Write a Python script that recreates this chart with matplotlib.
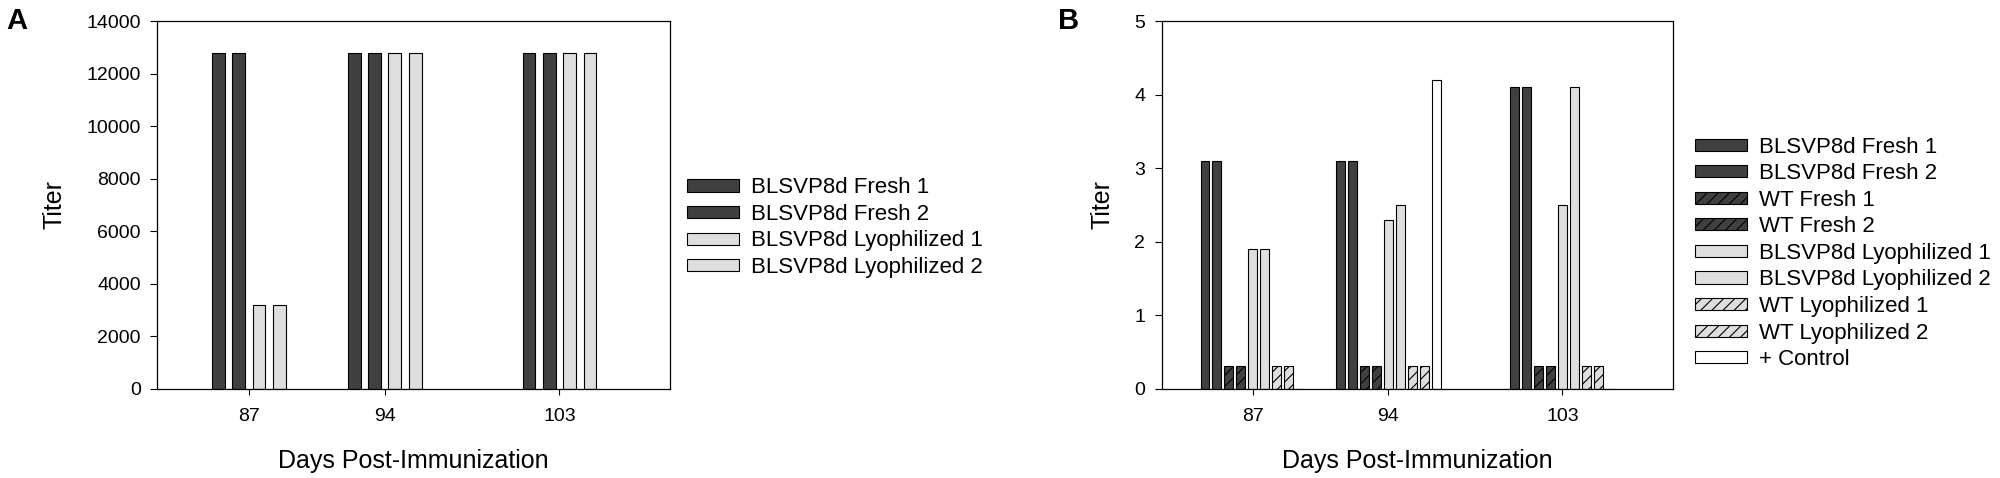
import numpy as np
import matplotlib
matplotlib.use('Agg')
import matplotlib.pyplot as plt

plt.rcParams['font.family'] = ['Liberation Sans', 'DejaVu Sans']
plt.rcParams['hatch.linewidth'] = 0.8

# Donnees
jours = [87, 94, 103]

series_a = ['BLSVP8d Fresh 1', 'BLSVP8d Fresh 2',
            'BLSVP8d Lyophilized 1', 'BLSVP8d Lyophilized 2']
titre_a = [
    [12800, 12800, 12800],
    [12800, 12800, 12800],
    [3200, 12800, 12800],
    [3200, 12800, 12800],
]

series_b = ['BLSVP8d Fresh 1', 'BLSVP8d Fresh 2', 'WT Fresh 1', 'WT Fresh 2',
            'BLSVP8d Lyophilized 1', 'BLSVP8d Lyophilized 2',
            'WT Lyophilized 1', 'WT Lyophilized 2', '+ Control']
titre_b = [
    [3.1, 3.1, 4.1],
    [3.1, 3.1, 4.1],
    [0.3, 0.3, 0.3],
    [0.3, 0.3, 0.3],
    [1.9, 2.3, 2.5],
    [1.9, 2.5, 4.1],
    [0.3, 0.3, 0.3],
    [0.3, 0.3, 0.3],
    [0, 4.2, 0],
]

FONCE = '#404040'
CLAIR = '#dedede'
styles_a = [(FONCE, ''), (FONCE, ''), (CLAIR, ''), (CLAIR, '')]
styles_b = [(FONCE, ''), (FONCE, ''), (FONCE, '///'), (FONCE, '///'),
            (CLAIR, ''), (CLAIR, ''), (CLAIR, '///'), (CLAIR, '///'),
            ('white', '')]


def barres(ax, valeurs, noms, styles, pas, largeur):
    n = len(valeurs)
    x = np.array(jours, dtype=float)
    for i, (vals, nom, (couleur, hachure)) in enumerate(zip(valeurs, noms, styles)):
        dx = (i - (n - 1) / 2) * pas
        ax.bar(x + dx, vals, width=largeur, color=couleur, edgecolor='black',
               linewidth=0.8, hatch=hachure, label=nom)


def habillage(ax):
    ax.set_xlim(82.3, 108.7)
    ax.set_xticks(jours)
    ax.tick_params(axis='x', direction='out', length=4, pad=10, labelsize=14)
    ax.tick_params(axis='y', direction='out', length=5, pad=7, labelsize=14)
    ax.tick_params(top=False, right=False)
    for s in ax.spines.values():
        s.set_linewidth(0.9)
    ax.set_xlabel('Days Post-Immunization', fontsize=18, labelpad=17)
    ax.set_ylabel('Titer', fontsize=18, labelpad=14)


def legende(ax, x, y):
    ax.legend(loc='center left', bbox_to_anchor=(x, y),
              bbox_transform=fig.transFigure, frameon=False, fontsize=16,
              handlelength=2.33, handleheight=0.46, handletextpad=0.56,
              labelspacing=0.25, borderpad=0, borderaxespad=0)


fig = plt.figure(figsize=(20, 4.78), dpi=100)

ax1 = fig.add_axes([0.0787, 0.1872, 0.2564, 0.768])
barres(ax1, titre_a, series_a, styles_a, 1.047, 0.655)
habillage(ax1)
ax1.set_ylim(0, 14000)
ax1.set_yticks(range(0, 14001, 2000))
legende(ax1, 0.3434, 0.5236)

ax2 = fig.add_axes([0.5809, 0.1872, 0.2555, 0.768])
barres(ax2, titre_b, series_b, styles_b, 0.619, 0.448)
habillage(ax2)
ax2.set_ylim(0, 5)
ax2.set_yticks(range(0, 6))
legende(ax2, 0.8475, 0.470)

fig.text(0.003, 0.985, 'A', fontsize=21, fontweight='bold', va='top', ha='left')
fig.text(0.529, 0.985, 'B', fontsize=21, fontweight='bold', va='top', ha='left')

fig.savefig('out.png', dpi=100)
